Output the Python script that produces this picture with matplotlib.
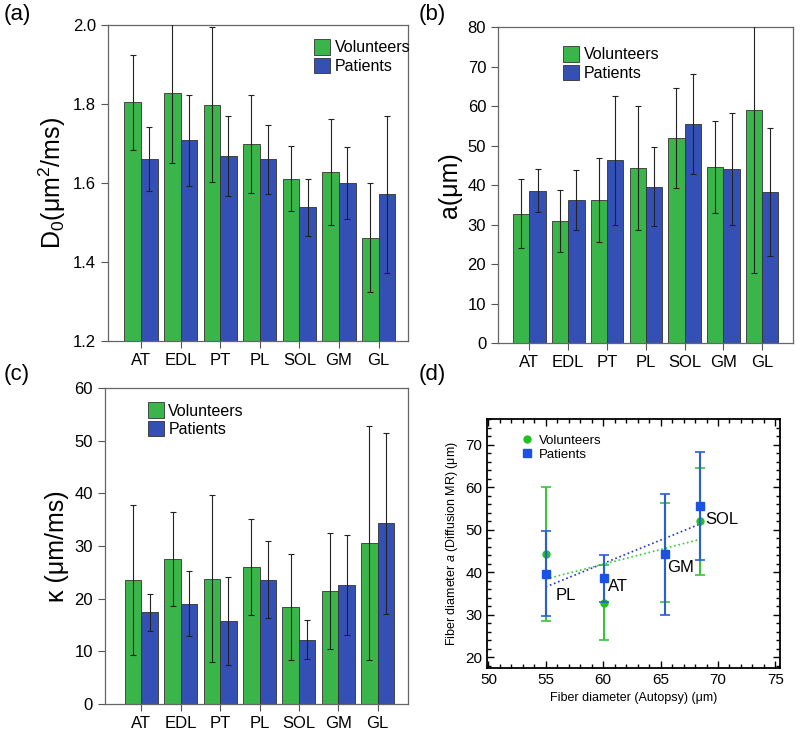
import numpy as np
import matplotlib
matplotlib.use("Agg")
import matplotlib.pyplot as plt
from matplotlib.ticker import MultipleLocator
from matplotlib.lines import Line2D

plt.rcParams['font.family'] = ['Liberation Sans', 'DejaVu Sans']
plt.rcParams['mathtext.fontset'] = 'custom'
plt.rcParams['mathtext.rm'] = 'Liberation Sans'
plt.rcParams['mathtext.it'] = 'Liberation Sans:italic'

# muscles
muscles = ['AT', 'EDL', 'PT', 'PL', 'SOL', 'GM', 'GL']

# (a) D0 (um^2/ms)
d0_vol = [1.804, 1.827, 1.798, 1.698, 1.611, 1.627, 1.462]
d0_vol_err = [0.120, 0.177, 0.196, 0.124, 0.083, 0.134, 0.137]
d0_pat = [1.660, 1.708, 1.668, 1.660, 1.539, 1.600, 1.572]
d0_pat_err = [0.081, 0.115, 0.102, 0.087, 0.072, 0.090, 0.199]

# (b) fiber diameter a (um)
a_vol = [32.8, 31.0, 36.3, 44.3, 52.0, 44.6, 59.0]
a_vol_err = [8.8, 7.8, 10.7, 15.7, 12.6, 11.7, 41.2]
a_pat = [38.6, 36.3, 46.3, 39.6, 55.6, 44.2, 38.2]
a_pat_err = [5.5, 7.6, 16.4, 10.0, 12.7, 14.2, 16.2]

# (c) kappa (um/ms)
k_vol = [23.6, 27.5, 23.8, 26.0, 18.4, 21.5, 30.6]
k_vol_err = [14.2, 8.9, 15.9, 9.1, 10.1, 11.0, 22.3]
k_pat = [17.4, 19.1, 15.8, 23.6, 12.2, 22.6, 34.3]
k_pat_err = [3.5, 6.2, 8.4, 7.3, 3.7, 9.5, 17.1]

# (d) autopsy fiber diameter (um) for selected muscles
d_muscles = ['PL', 'AT', 'GM', 'SOL']
autopsy = [55.0, 60.1, 65.4, 68.4]

green = '#3ab54a'
blue = '#3550b4'

fig = plt.figure(figsize=(8, 7.38), dpi=100)


def bar_panel(rect, vol, vol_err, pat, pat_err, ylim, ystep, ylabel, xlim, legend_loc, legend_anchor):
    ax = fig.add_axes(rect)
    x = np.arange(len(muscles))
    w = 0.42
    ax.bar(x - w / 2, vol, w, color=green, edgecolor='#333333', linewidth=0.6, label='Volunteers', zorder=2)
    ax.bar(x + w / 2, pat, w, color=blue, edgecolor='#333333', linewidth=0.6, label='Patients', zorder=2)
    ax.errorbar(x - w / 2, vol, yerr=vol_err, fmt='none', ecolor='#222222', elinewidth=0.8,
                capsize=2, capthick=0.8, zorder=3)
    ax.errorbar(x + w / 2, pat, yerr=pat_err, fmt='none', ecolor='#222222', elinewidth=0.8,
                capsize=2, capthick=0.8, zorder=3)
    ax.set_xlim(*xlim)
    ax.set_ylim(*ylim)
    ax.set_yticks(np.arange(ylim[0], ylim[1] + ystep / 2, ystep))
    ax.set_xticks(x)
    ax.set_xticklabels(muscles, fontsize=12)
    ax.tick_params(axis='y', labelsize=12, direction='out', length=5, color='#555555')
    ax.tick_params(axis='x', direction='out', length=5, color='#555555')
    for s in ax.spines.values():
        s.set_color('#666666')
        s.set_linewidth(0.9)
    ax.set_ylabel(ylabel, fontsize=18)
    ax.legend(loc=legend_loc, bbox_to_anchor=legend_anchor, frameon=False, fontsize=11.5,
              handlelength=1.0, handleheight=1.1, handletextpad=0.3, labelspacing=0.15,
              borderaxespad=0.0)
    return ax


ax_a = bar_panel([0.135, 0.538, 0.375, 0.428], d0_vol, d0_vol_err, d0_pat, d0_pat_err,
                 (1.2, 2.0), 0.2, 'D$_0$(μm$^2$/ms)', (-0.83, 6.74), 'upper right', (1.03, 0.975))
ax_a.yaxis.set_major_formatter(plt.FormatStrFormatter('%.1f'))

ax_b = bar_panel([0.6225, 0.535, 0.369, 0.428], a_vol, a_vol_err, a_pat, a_pat_err,
                 (0, 80), 10, 'a(μm)', (-0.81, 6.80), 'upper left', (0.2, 0.96))

ax_c = bar_panel([0.131, 0.046, 0.379, 0.428], k_vol, k_vol_err, k_pat, k_pat_err,
                 (0, 60), 10, 'κ (μm/ms)', (-0.93, 6.77), 'upper left', (0.12, 0.975))

# (d) scatter vs autopsy
ax_d = fig.add_axes([0.609, 0.095, 0.366, 0.337])
idx = [muscles.index(m) for m in d_muscles]
yv = np.array([a_vol[i] for i in idx])
ev = np.array([a_vol_err[i] for i in idx])
yp = np.array([a_pat[i] for i in idx])
ep = np.array([a_pat_err[i] for i in idx])
xa = np.array(autopsy)

ax_d.errorbar(xa, yv, yerr=ev, fmt='o', color='#22c022', ecolor='#3cc23c', elinewidth=1.5,
              capsize=3.5, capthick=1.2, markersize=5, zorder=3)
ax_d.errorbar(xa, yp, yerr=ep, fmt='s', color='#1a52e6', ecolor='#2a5fd8', elinewidth=1.5,
              capsize=3.5, capthick=1.2, markersize=5.5, zorder=4)

xf = np.array([xa.min(), xa.max()])
cv = np.polyfit(xa, yv, 1)
cp = np.polyfit(xa, yp, 1)
ax_d.plot(xf, np.polyval(cv, xf), ':', color='#33cc33', linewidth=1.2, zorder=2)
ax_d.plot(xf, np.polyval(cp, xf), ':', color='#2233cc', linewidth=1.2, zorder=2)

label_pos = {'PL': (55.9, 34.6), 'AT': (60.4, 36.7), 'GM': (65.6, 41.2), 'SOL': (68.9, 52.4)}
for m in d_muscles:
    ax_d.text(label_pos[m][0], label_pos[m][1], m, fontsize=12, va='center', ha='left')

ax_d.set_xlim(49.9, 75.4)
ax_d.set_ylim(17.5, 76)
ax_d.xaxis.set_major_locator(MultipleLocator(5))
ax_d.xaxis.set_minor_locator(MultipleLocator(1))
ax_d.yaxis.set_major_locator(MultipleLocator(10))
ax_d.yaxis.set_minor_locator(MultipleLocator(2))
ax_d.tick_params(which='both', direction='in', top=True, right=True, labelsize=11)
ax_d.tick_params(which='major', length=5, width=1)
ax_d.tick_params(which='minor', length=3, width=1)
for s in ax_d.spines.values():
    s.set_linewidth(1.3)
ax_d.set_xlabel('Fiber diameter (Autopsy) (μm)', fontsize=9)
ax_d.set_ylabel('Fiber diameter $a$ (Diffusion MR) (μm)', fontsize=9)
handles = [Line2D([], [], linestyle='none', marker='o', color='#22c022', markersize=5),
           Line2D([], [], linestyle='none', marker='s', color='#1a52e6', markersize=5.5)]
ax_d.legend(handles, ['Volunteers', 'Patients'], loc='upper left', bbox_to_anchor=(0.1, 0.96),
            frameon=False, fontsize=9.5, handlelength=0.8, handletextpad=0.5,
            labelspacing=0.15, borderaxespad=0.0)

# panel letters
fig.text(0.005, 0.98, '(a)', fontsize=16, va='center')
fig.text(0.523, 0.98, '(b)', fontsize=16, va='center')
fig.text(0.005, 0.492, '(c)', fontsize=16, va='center')
fig.text(0.523, 0.492, '(d)', fontsize=16, va='center')

fig.savefig('out.png', dpi=100)
